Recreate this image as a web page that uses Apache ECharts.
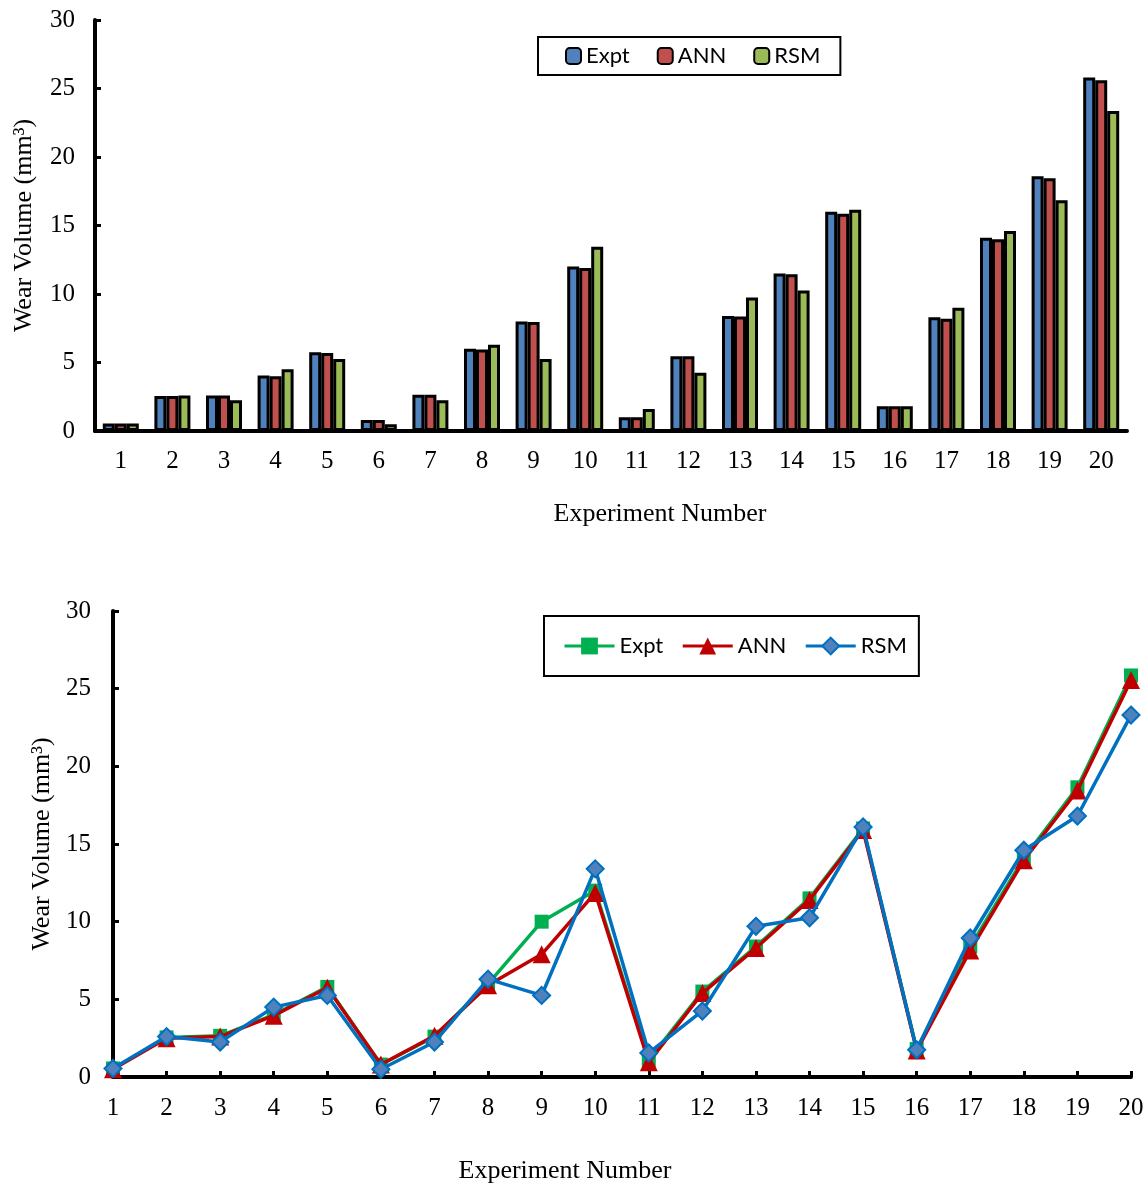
<!DOCTYPE html>
<html><head><meta charset="utf-8">
<script src="https://cdn.jsdelivr.net/npm/echarts@6/dist/echarts.min.js"></script>
<style>html,body{margin:0;padding:0;background:#fff}#topChart{position:absolute;left:0;top:0;width:1146px;height:560px}#botChart{position:absolute;left:0;top:560px;width:1146px;height:624px}</style>
</head><body><div id="topChart"></div><div id="botChart"></div>
<script>
const experiments = ['1','2','3','4','5','6','7','8','9','10','11','12','13','14','15','16','17','18','19','20'];
const seriesNames = ['Expt','ANN','RSM'];
// Bar chart values
const barExpt = [0.55, 2.55, 2.6, 4.05, 5.75, 0.8, 2.65, 6.0, 8.0, 12.0, 1.0, 5.45, 8.4, 11.5, 16.0, 1.8, 8.3, 14.1, 18.6, 25.8];
const barAnn  = [0.55, 2.55, 2.6, 4.0, 5.7, 0.8, 2.65, 5.95, 7.95, 11.9, 1.0, 5.45, 8.35, 11.45, 15.85, 1.8, 8.2, 14.0, 18.45, 25.6];
const barRsm  = [0.55, 2.6, 2.25, 4.5, 5.25, 0.5, 2.25, 6.3, 5.25, 13.45, 1.6, 4.25, 9.75, 10.25, 16.15, 1.8, 9.0, 14.6, 16.85, 23.35];
// Line chart values
const lineExpt = [0.55, 2.55, 2.65, 4.0, 5.8, 0.8, 2.6, 6.0, 10.0, 12.0, 1.1, 5.5, 8.4, 11.5, 16.0, 1.8, 8.4, 14.1, 18.65, 25.85];
const lineAnn  = [0.5, 2.5, 2.6, 3.95, 5.75, 0.8, 2.65, 5.9, 7.9, 11.85, 0.95, 5.4, 8.3, 11.4, 15.9, 1.7, 8.15, 13.95, 18.45, 25.55];
const lineRsm  = [0.55, 2.6, 2.25, 4.5, 5.25, 0.5, 2.25, 6.3, 5.25, 13.4, 1.55, 4.25, 9.7, 10.25, 16.1, 1.75, 8.95, 14.6, 16.8, 23.3];

const serif = 'Liberation Serif';
const legendFont = 'Lato';
const axisLabel = {color:'#000', fontFamily:serif, fontSize:25};
const axisNameStyle = {color:'#000', fontFamily:serif, fontSize:26};

// ---------- Top: bar chart ----------
const chartTop = echarts.init(document.getElementById('topChart'));
const barColors = ['#4F81BD','#C0504D','#9BBB59'];
const barData = [barExpt, barAnn, barRsm];
chartTop.setOption({
  animation:false,
  legend:{
    left:538, top:37, orient:'horizontal',
    borderColor:'#000', borderWidth:2, padding:[8,20,8,27],
    itemGap:27, itemWidth:15, itemHeight:16, icon:'roundRect',
    textStyle:{color:'#000', fontFamily:legendFont, fontSize:22},
    data:seriesNames
  },
  grid:{left:95, top:20, width:1032, height:411, outerBoundsMode:'none', containLabel:false},
  xAxis:{
    type:'category', data:experiments,
    name:'Experiment Number', nameLocation:'middle', nameGap:70,
    nameTextStyle:Object.assign({padding:[0,0,0,98]}, axisNameStyle),
    axisLine:{lineStyle:{color:'#000', width:4}},
    axisTick:{show:false},
    axisLabel:Object.assign({margin:18}, axisLabel)
  },
  yAxis:{
    type:'value', min:0, max:30, interval:5,
    name:'Wear Volume (mm³)', nameLocation:'middle', nameGap:58,
    nameTextStyle:axisNameStyle,
    axisLine:{show:true, lineStyle:{color:'#000', width:4}},
    axisTick:{show:true, inside:true, length:6, lineStyle:{color:'#000', width:3}},
    splitLine:{show:false},
    axisLabel:Object.assign({margin:20}, axisLabel)
  },
  series: seriesNames.map((n,i)=>({
    name:n, type:'bar', data:barData[i], barWidth:12, barGap:'0%',
    itemStyle:{color:barColors[i], borderColor:'#000', borderWidth:3}
  }))
});

// ---------- Bottom: line chart ----------
const chartBot = echarts.init(document.getElementById('botChart'));
const lineData = [lineExpt, lineAnn, lineRsm];
const lineColors = ['#00B050','#C00000','#0070C0'];
const symbols = ['rect','triangle','diamond'];
const symSizes = [14,18,17];
chartBot.setOption({
  animation:false,
  legend:{
    left:544, top:56, orient:'horizontal',
    borderColor:'#000', borderWidth:2, padding:[19,12,19,19],
    itemGap:18, itemWidth:50, itemHeight:21,
    lineStyle:{width:3},
    textStyle:{color:'#000', fontFamily:legendFont, fontSize:22},
    data:seriesNames
  },
  grid:{left:113, top:51, width:1018, height:466, outerBoundsMode:'none', containLabel:false},
  xAxis:{
    type:'category', data:experiments, boundaryGap:false,
    name:'Experiment Number', nameLocation:'middle', nameGap:81,
    nameTextStyle:Object.assign({padding:[0,114,0,0]}, axisNameStyle),
    axisLine:{lineStyle:{color:'#000', width:4}},
    axisTick:{show:true, inside:true, length:6, lineStyle:{color:'#000', width:3}},
    axisLabel:Object.assign({margin:19}, axisLabel)
  },
  yAxis:{
    type:'value', min:0, max:30, interval:5,
    name:'Wear Volume (mm³)', nameLocation:'middle', nameGap:57,
    nameTextStyle:axisNameStyle,
    axisLine:{show:true, lineStyle:{color:'#000', width:4}},
    axisTick:{show:true, inside:true, length:6, lineStyle:{color:'#000', width:3}},
    splitLine:{show:false},
    axisLabel:Object.assign({margin:22}, axisLabel)
  },
  series: seriesNames.map((n,i)=>({
    name:n, type:'line', data:lineData[i], symbol:symbols[i], symbolSize:symSizes[i],
    showAllSymbol:true, z:2+i,
    lineStyle:{color:lineColors[i], width:3.5},
    itemStyle: i===2 ? {color:'#4F81BD', borderColor:'#0070C0', borderWidth:2} : {color:lineColors[i], borderWidth:0}
  }))
});
</script></body></html>
